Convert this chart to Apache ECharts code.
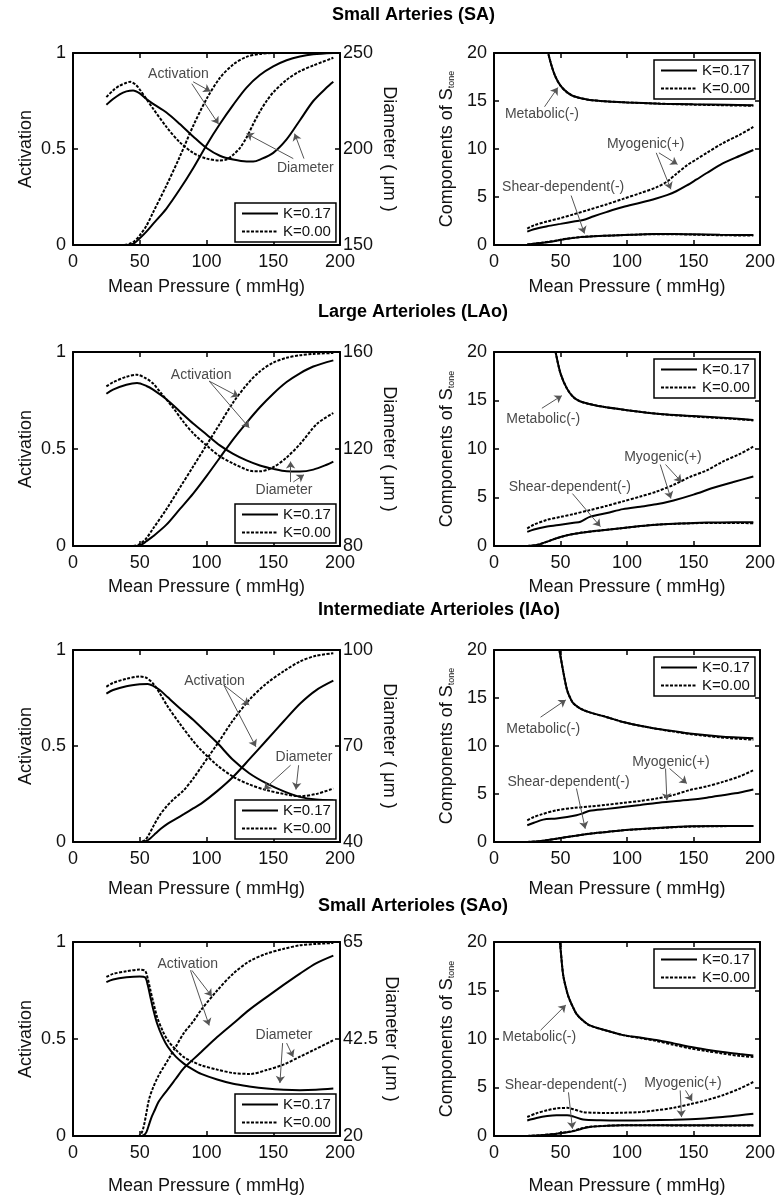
<!DOCTYPE html>
<html>
<head>
<meta charset="utf-8">
<script src="https://cdn.jsdelivr.net/npm/echarts@6/dist/echarts.min.js"></script>
<style>
  html, body { margin: 0; padding: 0; background: #fff; }
  #main { width: 778px; height: 1196px; }
</style>
</head>
<body>
<div id="main"></div>
<script>
// tick labels
const pressureTicks = [0, 50, 100, 150, 200];
const activationTicks = [0, 0.5, 1];
const componentTicks = [0, 5, 10, 15, 20];
const diameterTicksSA = [150, 200, 250];
const diameterTicksLAo = [80, 120, 160];
const diameterTicksIAo = [40, 70, 100];
const diameterTicksSAo = [20, 42.5, 65];

const titles = ['Small Arteries (SA)', 'Large Arterioles (LAo)', 'Intermediate Arterioles (IAo)', 'Small Arterioles (SAo)'];

// ---- Small Arteries (SA) ----  [pressure mmHg, value]
const activationSA_K017 = [[25,0],[35,0],[42,0],[46,0.01],[50,0.035],[55,0.07],[60,0.11],[70,0.19],[80,0.29],[90,0.4],[100,0.52],[110,0.63],[120,0.73],[130,0.82],[140,0.885],[150,0.93],[160,0.962],[170,0.982],[180,0.993],[195,1.0]];
const activationSA_K000 = [[25,0],[38,0],[42,0.005],[46,0.02],[50,0.05],[55,0.1],[60,0.17],[70,0.31],[80,0.46],[90,0.62],[100,0.76],[110,0.87],[120,0.94],[130,0.98],[140,0.995],[150,1],[195,1]];
const diameterSA_K017 = [[25,223],[30,226],[35,228.5],[40,230],[45,230.5],[50,229],[55,226],[60,223.5],[70,219],[80,213],[90,206.5],[100,200.5],[110,196.5],[120,194.5],[130,193.5],[135,193.5],[140,194.5],[150,198],[160,205],[170,215],[180,225],[190,232],[195,235]];
const diameterSA_K000 = [[25,227],[30,230.5],[35,233],[40,234.5],[43,235],[47,233.5],[50,231],[55,226],[60,221],[70,211.5],[80,203.5],[90,198],[100,195],[110,194],[115,194.5],[120,197],[125,200.5],[130,206],[135,213],[140,219.5],[145,225],[150,229.5],[160,236],[170,240.5],[180,243.5],[195,247.5]];
const metabolicSA_K017 = [[25,45],[30,32],[35,25],[40,20.5],[43,18.8],[46,17.6],[50,16.6],[55,15.9],[60,15.5],[70,15.15],[80,15.0],[100,14.85],[125,14.72],[150,14.65],[175,14.6],[195,14.55]];
const metabolicSA_K000 = [[25,45],[30,32],[35,25],[40,20.5],[43,18.8],[46,17.6],[50,16.6],[55,15.9],[60,15.5],[70,15.15],[80,15.0],[100,14.85],[125,14.72],[150,14.62],[175,14.55],[195,14.5]];
const myogenicSA_K017 = [[25,1.4],[30,1.65],[40,1.95],[50,2.2],[60,2.45],[67,2.6],[75,3.0],[85,3.45],[97,3.95],[110,4.4],[122,4.85],[130,5.2],[137,5.6],[145,6.2],[152,6.8],[160,7.5],[172,8.5],[185,9.3],[195,9.9]];
const myogenicSA_K000 = [[25,1.7],[30,2.05],[40,2.45],[50,2.8],[60,3.2],[72,3.7],[85,4.25],[97,4.8],[110,5.4],[122,6.0],[130,6.6],[137,7.4],[145,8.3],[152,8.9],[160,9.6],[172,10.6],[185,11.5],[195,12.3]];
const shearSA_K017 = [[25,0.05],[35,0.2],[45,0.4],[55,0.65],[65,0.82],[75,0.9],[90,1.0],[105,1.08],[120,1.15],[135,1.15],[150,1.12],[170,1.07],[195,1.03]];
const shearSA_K000 = [[25,0.05],[35,0.22],[45,0.42],[55,0.66],[65,0.83],[75,0.91],[90,1.0],[105,1.07],[120,1.12],[135,1.12],[150,1.08],[170,1.02],[195,0.98]];

// ---- Large Arterioles (LAo) ----
const activationLAo_K017 = [[25,0],[40,0],[48,0],[52,0.01],[55,0.025],[60,0.05],[70,0.11],[80,0.19],[90,0.27],[100,0.36],[110,0.455],[120,0.55],[130,0.635],[140,0.715],[150,0.785],[160,0.845],[170,0.89],[180,0.925],[195,0.957]];
const activationLAo_K000 = [[25,0],[45,0],[50,0.01],[55,0.04],[60,0.09],[70,0.19],[80,0.3],[90,0.41],[100,0.52],[110,0.63],[120,0.74],[130,0.83],[140,0.9],[150,0.945],[160,0.97],[170,0.983],[180,0.99],[195,0.995]];
const diameterLAo_K017 = [[25,142.8],[30,144.5],[40,146.5],[48,147.2],[55,146],[60,144.5],[70,140.5],[80,135.5],[90,130.5],[100,126],[110,121.5],[120,118],[130,115.3],[140,113.2],[150,111.8],[160,110.8],[170,110.7],[180,111.5],[190,113.5],[195,114.8]];
const diameterLAo_K000 = [[25,145.8],[30,147.5],[40,149.8],[48,150.6],[55,149],[60,147],[66,143],[75,137],[83,131],[90,126.5],[101,121],[110,117],[120,114],[130,111.5],[135,110.8],[140,110.8],[150,112.5],[160,116.5],[170,122],[183,130.5],[195,134.8]];
const metabolicLAo_K017 = [[25,50],[35,31],[42,23],[46,20.2],[50,17.8],[55,16.2],[60,15.3],[65,14.9],[70,14.7],[80,14.4],[100,14.0],[125,13.6],[150,13.4],[175,13.2],[195,13.0]];
const metabolicLAo_K000 = [[25,50],[35,31],[42,23],[46,20.2],[50,17.8],[55,16.2],[60,15.3],[65,14.9],[70,14.7],[80,14.4],[100,14.0],[125,13.6],[150,13.35],[175,13.15],[195,12.95]];
const myogenicLAo_K017 = [[25,1.45],[30,1.7],[40,2.0],[50,2.2],[60,2.4],[65,2.5],[72,3.0],[85,3.4],[97,3.8],[110,4.05],[122,4.3],[135,4.7],[150,5.3],[165,6.0],[180,6.6],[195,7.16]];
const myogenicLAo_K000 = [[25,1.8],[30,2.2],[40,2.7],[50,3.0],[60,3.3],[72,3.7],[85,4.15],[97,4.6],[110,5.1],[122,5.6],[135,6.3],[147,7.1],[160,7.8],[172,8.7],[185,9.5],[195,10.26]];
const shearLAo_K017 = [[25,0],[32,0.1],[40,0.45],[47,0.8],[55,1.1],[62,1.3],[70,1.45],[80,1.6],[97,1.85],[110,2.05],[122,2.2],[135,2.3],[150,2.38],[170,2.43],[195,2.45]];
const shearLAo_K000 = [[25,0],[32,0.1],[40,0.45],[47,0.8],[55,1.1],[62,1.3],[70,1.45],[80,1.6],[97,1.85],[110,2.05],[122,2.2],[135,2.28],[150,2.35],[170,2.38],[195,2.35]];

// ---- Intermediate Arterioles (IAo) ----
const activationIAo_K017 = [[25,0],[50,0],[55,0.005],[58,0.02],[62,0.045],[66,0.07],[71,0.096],[77,0.12],[83,0.145],[90,0.175],[96,0.2],[108,0.265],[120,0.34],[132,0.43],[145,0.53],[158,0.63],[170,0.72],[182,0.79],[195,0.84]];
const activationIAo_K000 = [[25,0],[50,0],[54,0.01],[57,0.04],[60,0.08],[65,0.14],[70,0.185],[75,0.22],[83,0.27],[90,0.33],[96,0.39],[108,0.51],[120,0.635],[132,0.74],[145,0.826],[158,0.89],[170,0.94],[182,0.97],[195,0.983]];
const diameterIAo_K017 = [[25,86.4],[30,87.5],[40,88.7],[50,89.3],[56,89.4],[60,88.8],[65,87.5],[71,85.2],[80,81.8],[90,78.2],[100,74.2],[108,71],[120,65.6],[132,61.5],[145,58.3],[158,55.8],[170,54.1],[182,53.3],[195,53]];
const diameterIAo_K000 = [[25,88.5],[30,89.7],[40,91],[50,91.7],[55,91.3],[60,89.5],[65,86.5],[71,82.3],[80,77],[90,71.5],[96,68.7],[108,64],[120,60.4],[132,58],[145,56.2],[158,55],[170,54.3],[183,55.1],[195,56.7]];
const metabolicIAo_K017 = [[25,60],[40,30],[46,22],[49,20.1],[52,17.8],[55,15.8],[58,14.8],[60,14.4],[65,13.9],[72,13.5],[85,13.0],[97,12.5],[110,12.1],[122,11.8],[135,11.55],[147,11.3],[170,11.0],[195,10.8]];
const metabolicIAo_K000 = [[25,60],[40,30],[46,22],[49,20.1],[52,17.8],[55,15.8],[58,14.8],[60,14.4],[65,13.9],[72,13.5],[85,13.0],[97,12.5],[110,12.1],[122,11.8],[135,11.5],[147,11.25],[170,10.9],[195,10.65]];
const myogenicIAo_K017 = [[25,1.74],[30,2.0],[37,2.33],[47,2.45],[55,2.6],[62,2.78],[67,3.0],[72,3.25],[85,3.45],[97,3.65],[110,3.85],[122,4.07],[135,4.25],[147,4.4],[160,4.62],[172,4.87],[185,5.15],[195,5.46]];
const myogenicIAo_K000 = [[25,2.26],[30,2.6],[35,2.85],[47,3.3],[60,3.55],[72,3.7],[85,3.88],[97,4.07],[110,4.28],[122,4.52],[135,4.9],[147,5.4],[160,5.8],[172,6.26],[185,6.85],[195,7.48]];
const shearIAo_K017 = [[25,0],[35,0.1],[47,0.35],[60,0.62],[72,0.87],[85,1.05],[97,1.22],[110,1.35],[122,1.46],[135,1.55],[147,1.63],[170,1.67],[195,1.67]];
const shearIAo_K000 = [[25,0],[35,0.1],[47,0.35],[60,0.62],[72,0.87],[85,1.05],[97,1.22],[110,1.34],[122,1.44],[135,1.53],[147,1.6],[170,1.65],[195,1.66]];

// ---- Small Arterioles (SAo) ----
const activationSAo_K017 = [[25,0],[50,0],[53,0.005],[55,0.02],[57,0.06],[59,0.1],[61,0.13],[64,0.175],[67,0.205],[71,0.24],[77,0.295],[83,0.35],[90,0.395],[96,0.433],[108,0.51],[120,0.58],[132,0.65],[145,0.716],[158,0.78],[170,0.837],[182,0.89],[195,0.93]];
const activationSAo_K000 = [[25,0],[49,0],[51,0.01],[53,0.05],[55,0.12],[57,0.19],[60,0.25],[64,0.31],[71,0.39],[77,0.46],[83,0.53],[90,0.59],[96,0.65],[108,0.75],[120,0.837],[132,0.9],[145,0.94],[158,0.965],[170,0.983],[182,0.99],[195,0.995]];
const diameterSAo_K017 = [[25,55.7],[30,56.3],[40,56.8],[50,57],[54,56.8],[56,55],[58,52.2],[60,49.5],[63,46.1],[67,43],[71,40.7],[77,38.4],[83,36.8],[90,35.4],[96,34.4],[108,33.1],[120,32.1],[132,31.5],[145,31.0],[158,30.7],[170,30.6],[182,30.7],[195,31.0]];
const diameterSAo_K000 = [[25,56.9],[30,57.6],[40,58.2],[50,58.6],[54,58.3],[56,56.5],[58,53.8],[60,51.2],[63,47.6],[67,44.5],[71,42.2],[77,40],[83,38.3],[90,37.2],[96,36.4],[108,35.4],[120,34.6],[133,34.4],[145,35.3],[158,36.6],[170,38.4],[182,40.2],[195,42.2]];
const metabolicSAo_K017 = [[25,70],[40,32],[46,23],[49.5,20],[52,16.6],[55,14.8],[57,14.0],[60,13.1],[62,12.6],[66,12.0],[72,11.4],[85,10.85],[97,10.4],[110,10.15],[122,9.9],[135,9.55],[147,9.2],[160,8.9],[172,8.66],[185,8.45],[195,8.3]];
const metabolicSAo_K000 = [[25,70],[40,32],[46,23],[49.5,20],[52,16.6],[55,14.8],[57,14.0],[60,13.1],[62,12.6],[66,12.0],[72,11.4],[85,10.85],[97,10.4],[110,10.1],[122,9.8],[135,9.4],[147,9.05],[160,8.75],[172,8.5],[185,8.25],[195,8.15]];
const myogenicSAo_K017 = [[25,1.6],[32,1.85],[40,2.05],[47,2.13],[55,2.13],[60,2.0],[67,1.7],[80,1.62],[97,1.6],[115,1.62],[135,1.68],[155,1.78],[172,1.96],[185,2.15],[195,2.3]];
const myogenicSAo_K000 = [[25,1.96],[32,2.35],[40,2.65],[47,2.85],[55,2.9],[60,2.75],[67,2.47],[75,2.4],[85,2.37],[97,2.4],[110,2.47],[122,2.65],[135,2.9],[148,3.3],[160,3.7],[172,4.2],[185,4.9],[195,5.57]];
const shearSAo_K017 = [[25,0],[35,0.08],[47,0.24],[55,0.38],[60,0.5],[66,0.75],[72,0.93],[85,1.05],[97,1.1],[120,1.12],[150,1.1],[195,1.1]];
const shearSAo_K000 = [[25,0],[35,0.08],[47,0.24],[55,0.4],[60,0.55],[66,0.8],[72,0.95],[85,1.06],[97,1.1],[120,1.1],[150,1.08],[195,1.07]];

// annotation texts [text, pressure, value] and arrows [[from], [to]]
const notesSA_left = [['Activation', 79, 0.89], ['Diameter', 174, 0.40]];
const arrowsSA_left = [[[90,0.85],[103,0.80]], [[89,0.84],[109,0.63]], [[165,0.45],[130,0.58]], [[173,0.45],[166,0.58]]];
const notesSA_right = [['Metabolic(-)', 36, 13.6], ['Myogenic(+)', 114, 10.5], ['Shear-dependent(-)', 52, 6.0]];
const arrowsSA_right = [[[38,14.4],[48,16.4]], [[122,9.6],[133,5.8]], [[124,9.6],[138,8.4]], [[58,5.15],[68,1.2]]];
const notesLAo_left = [['Activation', 96, 0.883], ['Diameter', 158, 0.29]];
const arrowsLAo_left = [[[102,0.85],[124,0.77]], [[102,0.85],[132,0.61]], [[163,0.33],[163,0.435]], [[165,0.33],[173,0.367]]];
const notesLAo_right = [['Metabolic(-)', 37, 13.1], ['Myogenic(+)', 127, 9.2], ['Shear-dependent(-)', 57, 6.1]];
const arrowsLAo_right = [[[36,14.2],[51,15.5]], [[125,8.4],[133,4.9]], [[129,8.4],[141,6.6]], [[59,5.4],[80,2.0]]];
const notesIAo_left = [['Activation', 106, 0.84], ['Diameter', 173, 0.44]];
const arrowsIAo_left = [[[113,0.817],[132,0.713]], [[113,0.817],[137,0.496]], [[163,0.4],[143,0.273]], [[169,0.4],[167,0.273]]];
const notesIAo_right = [['Metabolic(-)', 37, 11.8], ['Myogenic(+)', 133, 8.35], ['Shear-dependent(-)', 56, 6.26]];
const arrowsIAo_right = [[[35,13.0],[54,14.8]], [[129,7.65],[130,4.35]], [[132,7.65],[145,6.1]], [[62,5.57],[68.6,1.39]]];
const notesSAo_left = [['Activation', 86, 0.885], ['Diameter', 158, 0.52]];
const arrowsSAo_left = [[[89,0.854],[104,0.72]], [[88,0.854],[102,0.57]], [[157,0.479],[155,0.273]], [[160,0.479],[165,0.407]]];
const notesSAo_right = [['Metabolic(-)', 34, 10.2], ['Myogenic(+)', 142, 5.4], ['Shear-dependent(-)', 54, 5.2]];
const arrowsSAo_right = [[[35,10.9],[54,13.5]], [[140,4.7],[141,1.95]], [[144,4.7],[149,3.6]], [[56,4.5],[59,0.76]]];

const FONT = '"Liberation Sans", Arial, sans-serif';
const rowTop = [53, 352, 650, 942];
const rowHeight = [192, 194, 192, 194];
const xNameGap = [33, 32, 38, 41];
const colLeft = [73, 494];
const plotWidth = 267;
const titleLeft = [332, 318, 318, 318];
const titleTop = [6, 303, 601, 897];

const rows = [
  { act: [activationSA_K017, activationSA_K000], dia: [diameterSA_K017, diameterSA_K000], diaTicks: diameterTicksSA,
    met: [metabolicSA_K017, metabolicSA_K000], myo: [myogenicSA_K017, myogenicSA_K000], shear: [shearSA_K017, shearSA_K000],
    notesL: notesSA_left, arrowsL: arrowsSA_left, notesR: notesSA_right, arrowsR: arrowsSA_right },
  { act: [activationLAo_K017, activationLAo_K000], dia: [diameterLAo_K017, diameterLAo_K000], diaTicks: diameterTicksLAo,
    met: [metabolicLAo_K017, metabolicLAo_K000], myo: [myogenicLAo_K017, myogenicLAo_K000], shear: [shearLAo_K017, shearLAo_K000],
    notesL: notesLAo_left, arrowsL: arrowsLAo_left, notesR: notesLAo_right, arrowsR: arrowsLAo_right },
  { act: [activationIAo_K017, activationIAo_K000], dia: [diameterIAo_K017, diameterIAo_K000], diaTicks: diameterTicksIAo,
    met: [metabolicIAo_K017, metabolicIAo_K000], myo: [myogenicIAo_K017, myogenicIAo_K000], shear: [shearIAo_K017, shearIAo_K000],
    notesL: notesIAo_left, arrowsL: arrowsIAo_left, notesR: notesIAo_right, arrowsR: arrowsIAo_right },
  { act: [activationSAo_K017, activationSAo_K000], dia: [diameterSAo_K017, diameterSAo_K000], diaTicks: diameterTicksSAo,
    met: [metabolicSAo_K017, metabolicSAo_K000], myo: [myogenicSAo_K017, myogenicSAo_K000], shear: [shearSAo_K017, shearSAo_K000],
    notesL: notesSAo_left, arrowsL: arrowsSAo_left, notesR: notesSAo_right, arrowsR: arrowsSAo_right }
];

const textBase = { fontFamily: FONT, color: '#111', fontSize: 18 };

function axis(gridIndex, ticks, position, showLabels, margin) {
  return {
    type: 'value', gridIndex: gridIndex, position: position,
    min: ticks[0], max: ticks[ticks.length - 1],
    axisLine: { show: true, onZero: false, lineStyle: { color: '#000', width: 2 } },
    axisTick: { show: true, inside: true, length: 5, customValues: ticks, lineStyle: { color: '#000', width: 1.5 } },
    axisLabel: Object.assign({ show: showLabels, customValues: ticks, margin: margin }, textBase),
    splitLine: { show: false }
  };
}

function curve(name, data, p, yIdx, dashed, marks) {
  const s = {
    type: 'line', name: name, data: data,
    xAxisIndex: 2 * p, yAxisIndex: 2 * p + yIdx,
    symbol: 'none', smooth: 0.3, clip: true, silent: true,
    lineStyle: { color: '#000', width: 2, type: dashed ? [3, 1.5] : 'solid' },
    itemStyle: { color: '#000' },
    z: dashed ? 3 : 2
  };
  return marks ? Object.assign(s, marks) : s;
}

function annotations(notes, arrows) {
  return {
    markPoint: {
      silent: true, symbol: 'rect', symbolSize: 1,
      itemStyle: { color: 'rgba(0,0,0,0)' },
      label: { show: true, position: 'inside', formatter: '{b}', fontFamily: FONT, fontSize: 14, color: '#4a4a4a' },
      data: notes.map(n => ({ name: n[0], coord: [n[1], n[2]] }))
    },
    markLine: {
      silent: true, symbol: ['none', 'arrow'], symbolSize: 7, precision: 3,
      label: { show: false },
      lineStyle: { color: '#555', width: 1, type: 'solid' },
      itemStyle: { color: '#555' },
      emphasis: { disabled: true },
      data: arrows.map(a => [{ coord: a[0] }, { coord: a[1] }])
    }
  };
}

const grid = [], xAxis = [], yAxis = [], series = [], legend = [], title = [];

rows.forEach((r, row) => {
  title.push({ text: titles[row], left: titleLeft[row], top: titleTop[row], padding: 0,
    textStyle: { fontFamily: FONT, fontSize: 18, fontWeight: 'bold', color: '#000' } });
  [0, 1].forEach(col => {
    const p = row * 2 + col;
    grid.push({ left: colLeft[col], top: rowTop[row], width: plotWidth, height: rowHeight[row] });
    xAxis.push(Object.assign(axis(p, pressureTicks, 'bottom', true, 8), {
      name: 'Mean Pressure ( mmHg)', nameLocation: 'middle', nameGap: xNameGap[row], nameTextStyle: textBase }));
    xAxis.push(axis(p, pressureTicks, 'top', false, 8));
    if (col === 0) {
      yAxis.push(Object.assign(axis(p, activationTicks, 'left', true, 7), {
        name: 'Activation', nameLocation: 'middle', nameGap: 38, nameRotate: 90, nameTextStyle: textBase }));
      yAxis.push(Object.assign(axis(p, r.diaTicks, 'right', true, 3), {
        name: 'Diameter ( μm )', nameLocation: 'middle', nameGap: 40, nameRotate: -90, nameTextStyle: textBase }));
      series.push(curve('K=0.17', r.act[0], p, 0, false, annotations(r.notesL, r.arrowsL)));
      series.push(curve('K=0.00', r.act[1], p, 0, true));
      series.push(curve('K=0.17', r.dia[0], p, 1, false));
      series.push(curve('K=0.00', r.dia[1], p, 1, true));
      legend.push({ left: 235, top: rowTop[row] + rowHeight[row] - 42 });
    } else {
      yAxis.push(Object.assign(axis(p, componentTicks, 'left', true, 7), {
        name: 'Components of {s|S}{t|tone}', nameLocation: 'middle', nameGap: 38, nameRotate: 90,
        nameTextStyle: Object.assign({ rich: {
          s: Object.assign({}, textBase),
          t: { fontFamily: FONT, color: '#111', fontSize: 9, verticalAlign: 'bottom', lineHeight: 12 }
        } }, textBase) }));
      yAxis.push(axis(p, componentTicks, 'right', false, 3));
      series.push(curve('K=0.17', r.met[0], p, 0, false, annotations(r.notesR, r.arrowsR)));
      series.push(curve('K=0.00', r.met[1], p, 0, true));
      series.push(curve('K=0.17', r.myo[0], p, 0, false));
      series.push(curve('K=0.00', r.myo[1], p, 0, true));
      series.push(curve('K=0.17', r.shear[0], p, 0, false));
      series.push(curve('K=0.00', r.shear[1], p, 0, true));
      legend.push({ left: 654, top: rowTop[row] + 7 });
    }
  });
});

legend.forEach(l => Object.assign(l, {
  data: ['K=0.17', 'K=0.00'], orient: 'vertical', selectedMode: false,
  itemWidth: 36, itemHeight: 14, itemGap: 3, padding: [3, 5, 3, 6],
  borderColor: '#000', borderWidth: 1.5, borderRadius: 0, backgroundColor: '#fff',
  itemStyle: { opacity: 0 },
  textStyle: { fontFamily: FONT, fontSize: 15, color: '#111' }
}));

const chart = echarts.init(document.getElementById('main'));
chart.setOption({
  animation: false,
  backgroundColor: '#fff',
  title: title,
  legend: legend,
  grid: grid,
  xAxis: xAxis,
  yAxis: yAxis,
  series: series
});
</script>
</body>
</html>
